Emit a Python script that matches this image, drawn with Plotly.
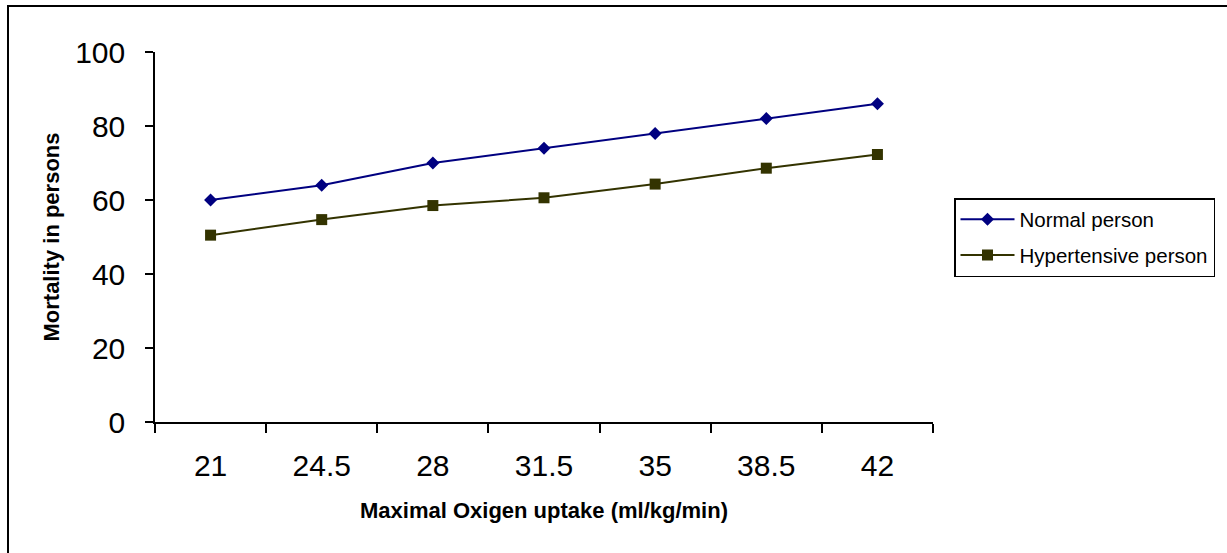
import plotly.graph_objects as go

categories = ["21", "24.5", "28", "31.5", "35", "38.5", "42"]
normal = [60, 64, 70, 74, 78, 82, 86]
hypertensive = [50.5, 54.7, 58.5, 60.6, 64.3, 68.6, 72.3]
y_ticks = [0, 20, 40, 60, 80, 100]

W, H = 1227, 553
L, R, T, B = 155, 933, 52, 422
pw, ph = R - L, B - T

def px_x(x):
    return (x - L) / pw

def px_y(y):
    return (B - y) / ph

fig = go.Figure()
fig.add_trace(go.Scatter(
    x=categories, y=normal, name="Normal person", mode="lines+markers",
    line=dict(color="#000080", width=2),
    marker=dict(symbol="diamond", size=10, color="#000080", line=dict(width=0)),
    legendgroup="a",
))
fig.add_trace(go.Scatter(
    x=categories, y=hypertensive, name="Hypertensive person", mode="lines+markers",
    line=dict(color="#333300", width=2),
    marker=dict(symbol="square", size=11, color="#333300", line=dict(width=0)),
    legendgroup="b",
))

font_family = "Liberation Sans, Arial, sans-serif"

fig.update_layout(
    width=W, height=H,
    margin=dict(l=L, r=W - R, t=T, b=H - B),
    paper_bgcolor="white", plot_bgcolor="white",
    font=dict(family=font_family, color="black"),
    showlegend=True,
    legend=dict(
        x=px_x(954), y=px_y(198), xanchor="left", yanchor="top",
        bordercolor="black", borderwidth=1.5, bgcolor="white",
        font=dict(size=20.5, family=font_family, color="black"),
        traceorder="grouped", tracegroupgap=6, itemwidth=54,
    ),
    xaxis=dict(
        type="category", range=[-0.5, 6.5], tickson="boundaries",
        showline=True, linecolor="black", linewidth=1.5,
        ticks="outside", ticklen=9, tickwidth=1.5, tickcolor="black",
        ticklabelstandoff=16,
        tickfont=dict(size=30, family=font_family, color="black"),
        showgrid=False, zeroline=False,
        title=dict(text="<b>Maximal Oxigen uptake (ml/kg/min)</b>",
                   font=dict(size=22, family=font_family, color="black"), standoff=22),
    ),
    yaxis=dict(
        range=[0, 100], tickvals=y_ticks,
        showline=True, linecolor="black", linewidth=1.5,
        ticks="outside", ticklen=8, tickwidth=1.5, tickcolor="black",
        ticklabelstandoff=14,
        tickfont=dict(size=30, family=font_family, color="black"),
        showgrid=False, zeroline=False,
        title=dict(text="<b>Mortality in persons</b>",
                   font=dict(size=22, family=font_family, color="black"), standoff=9),
    ),
    shapes=[dict(
        type="rect", xref="paper", yref="paper",
        x0=px_x(8), x1=px_x(1240), y0=px_y(570), y1=px_y(6),
        line=dict(color="black", width=2), fillcolor="rgba(0,0,0,0)", layer="below",
    )],
)

fig.write_html("out.html")
